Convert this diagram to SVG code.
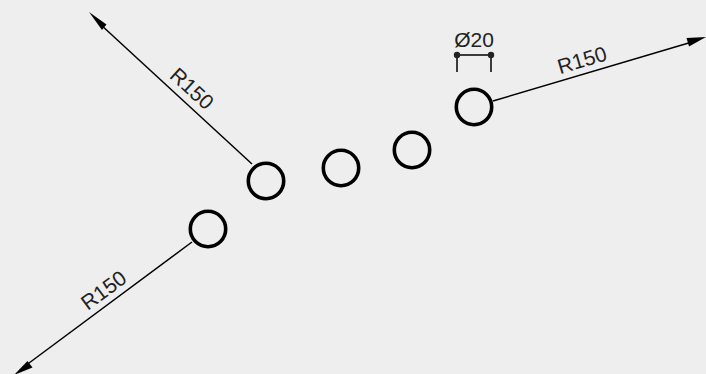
<svg xmlns="http://www.w3.org/2000/svg" width="706" height="374" viewBox="0 0 706 374">
<style>
.hole{fill:none;stroke:#000;stroke-width:3.6}
.dim{fill:none;stroke:#000;stroke-width:1.5}
.head{fill:#000;stroke:none}
.dot{fill:#222;stroke:none}
text{font-family:"Liberation Sans",Arial,sans-serif;font-size:21px;fill:#222;text-anchor:middle}
</style>
<rect width="706" height="374" fill="#eeeeee"/>
<g id="connectors">
<path class="dim" d="M493 101L692 42"/>
<polygon class="head" points="706,37 689,46.500 686.500,38"/>
<path class="dim" d="M252 164L100 24"/>
<polygon class="head" points="89,12 106.500,24.500 102,30"/>
<path class="dim" d="M192 242L25 366"/>
<polygon class="head" points="14,375 27.500,361 32.500,367.500"/>
<path class="dim" d="M457 55H491M457 55V72M491 55V72"/>
<circle class="dot" cx="457" cy="55" r="3.200"/>
<circle class="dot" cx="491" cy="55" r="3.200"/>
</g>
<g id="hole1"><circle class="hole" cx="208" cy="229" r="17.700"/></g>
<g id="hole2"><circle class="hole" cx="266" cy="181" r="17.700"/></g>
<g id="hole3"><circle class="hole" cx="341" cy="168" r="17.700"/></g>
<g id="hole4"><circle class="hole" cx="412" cy="150" r="17.700"/></g>
<g id="hole5"><circle class="hole" cx="474" cy="107" r="17.700"/></g>
<g id="labels">
<text x="474" y="47">Ø20</text>
<text transform="translate(584 67) rotate(-16.500)">R150</text>
<text transform="translate(187 94) rotate(42.500)">R150</text>
<text transform="translate(108 296) rotate(-36.500)">R150</text>
</g>
</svg>
